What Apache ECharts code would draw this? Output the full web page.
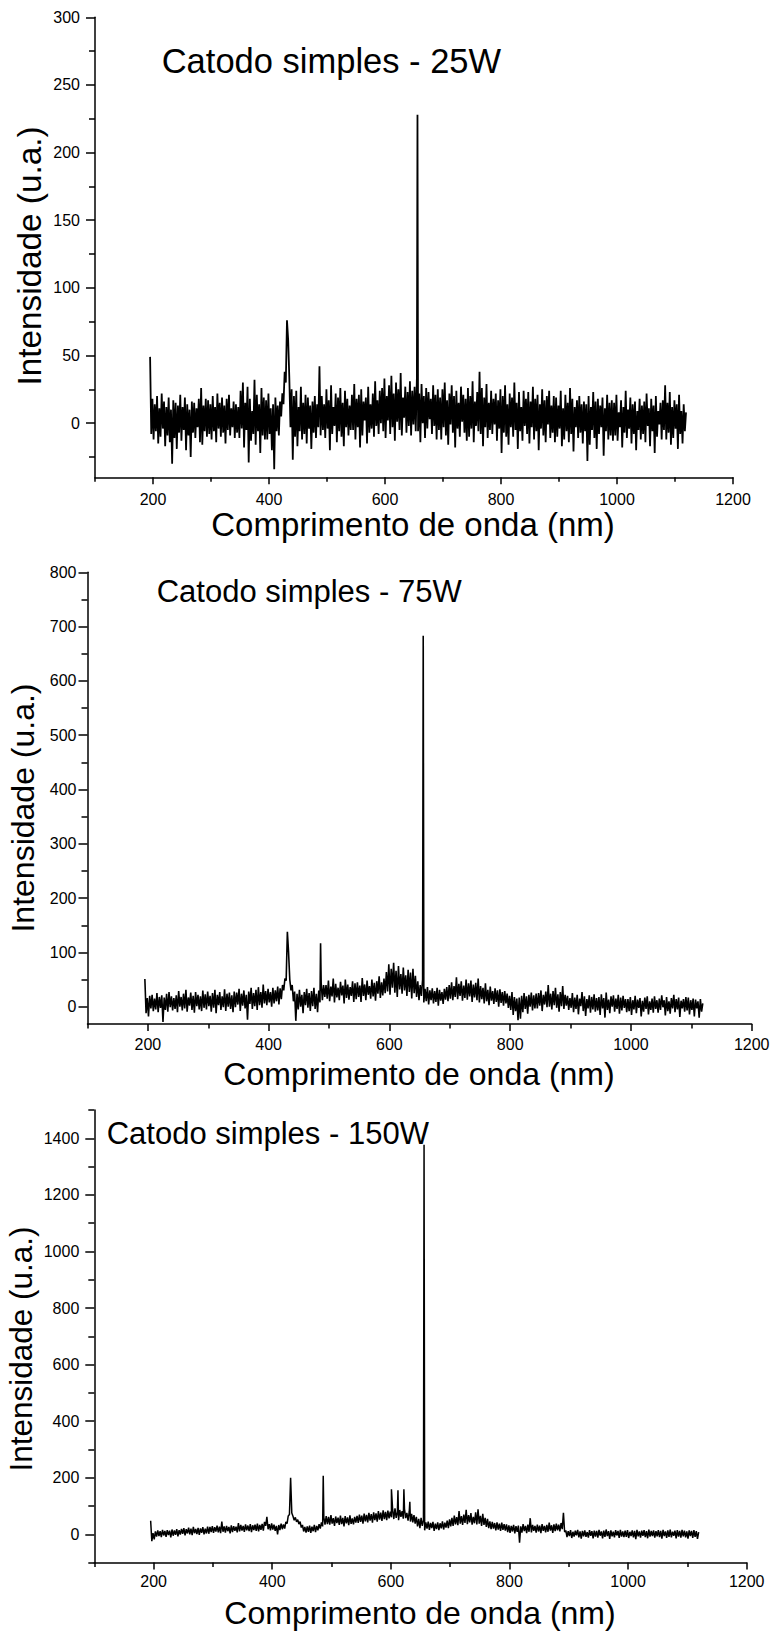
<!DOCTYPE html>
<html>
<head>
<meta charset="utf-8">
<title>Catodo simples - espectros</title>
<script src="https://cdn.jsdelivr.net/npm/echarts@6/dist/echarts.min.js"></script>
<style>
  html, body { margin: 0; padding: 0; background: #fff; }
  #chart { width: 773px; height: 1634px; }
</style>
</head>
<body>
<div id="chart"></div>
<script>
// espectros: 195 a 1119 nm a cada 2 nm
// (valores alternam máximo / mínimo local da faixa de ruído)
const lambdaStart = 195;
const lambdaStep = 2;

const xMajorTicks = [200, 400, 600, 800, 1000, 1200];
const xMinorTicks = [100, 300, 500, 700, 900, 1100];

// --- 25W ---
const y25Major = [0, 50, 100, 150, 200, 250, 300];
const y25Minor = [-25, 25, 75, 125, 175, 225, 275];
const noise25W = [
  49, -8, 18, -12, 14, -6, 20, -15, 11, -10, 22, -4, 16, -17, 12, -9, 19, -14, 10, -30, 17, -11, 15, -19, 13,
  -7, 21, -13, 12, -5, 19, -20, 14, -9, 10, -25, 16, -7, 15, -11, 11, -3, 18, -14, 26, -16, 13, -6, 18, -10,
  17, -8, 14, -12, 20, -6, 12, -14, 22, -4, 15, -10, 19, -7, 13, -15, 18, -5, 21, -9, 11, -3, 16, -11, 14,
  -7, 12, -11, 24, -4, 30, -18, 15, -5, 27, -29, 18, -13, 9, -8, 32, -16, 21, -6, 14, -22, 26, -9, 19, -12,
  17, -12, 22, -8, 11, -20, 14, -34, 19, -6, 13, -9, 16, 5, 22, 14, 38, 30, 76, 62, 34, -3, 25, -27, 20,
  -10, 24, -17, 12, -6, 27, -12, 15, -8, 21, -15, 19, -4, 13, -19, 16, -7, 20, -11, 14, -3, 42, -9, 20, -5,
  14, -11, 25, -4, 17, -20, 28, -8, 12, -2, 22, -14, 19, -6, 26, -10, 15, -17, 24, -3, 18, -9, 13, -5, 21,
  -5, 29, -12, 18, -3, 21, -18, 25, -9, 16, 2, 19, -15, 27, -7, 14, -4, 22, -10, 31, -2, 17, -8, 24, 0,
  26, -6, 33, -11, 20, 2, 28, -8, 35, -3, 22, -13, 30, 1, 25, -5, 37, -9, 19, 4, 27, -7, 23, -2, 31,
  -9, 24, -1, 27, -6, 34, -6, 22, -14, 29, 0, 20, -11, 26, -4, 23, 3, 18, -8, 28, -2, 21, -12, 25, -5,
  19, -12, 25, -3, 30, -9, 17, -16, 22, -1, 28, -7, 20, -18, 24, -4, 15, -10, 27, 1, 21, -7, 18, -13, 26,
  -10, 20, -4, 31, -14, 16, -2, 23, -6, 38, -8, 26, -17, 19, -3, 29, -11, 15, -5, 24, -8, 18, -1, 22, -13,
  17, -4, 25, -22, 20, -7, 28, -10, 14, -16, 22, -3, 19, -10, 30, -5, 15, -19, 23, -6, 12, -13, 24, -2, 18,
  -8, 23, -15, 16, -3, 27, -12, 18, -6, 21, -20, 14, -4, 25, -9, 17, -14, 20, -1, 24, -11, 13, -7, 20, -14,
  19, -10, 13, -4, 24, -17, 11, -12, 21, -6, 15, -14, 26, -8, 18, -21, 12, -3, 17, -11, 20, -7, 14, -15, 16,
  -6, 14, -28, 20, -16, 12, -5, 23, -11, 16, -19, 18, -8, 13, -3, 19, -24, 11, -6, 21, -12, 15, -9, 17, -13,
  15, -9, 21, -13, 8, -3, 17, -18, 12, -7, 24, -11, 10, -4, 19, -15, 14, -8, 16, -20, 9, -5, 18, -12, 13,
  -8, 16, -14, 22, -2, 11, -17, 18, -6, 13, -22, 20, -10, 9, -1, 15, -12, 17, -5, 28, -12, 15, -7, 23, -16,
  12, -11, 17, -4, 14, -19, 21, -8, 9, -15, 14, -6, 8
];
const peaks25W = [[656, 228]];

// --- 75W ---
const y75Major = [0, 100, 200, 300, 400, 500, 600, 700, 800];
const y75Minor = [50, 150, 250, 350, 450, 550, 650, 750];
const noise75W = [
  51, -12, 16, -18, 20, -3, 22, -8, 15, -5, 25, -10, 18, -2, 21, -28, 17, -6, 24, -9, 27, -1, 19, -7, 16,
  -4, 21, -10, 29, 0, 18, -7, 24, -3, 31, -9, 17, 2, 26, -6, 20, -11, 27, 1, 22, -5, 19, -8, 30, -2,
  23, -5, 28, 1, 20, -9, 25, -2, 31, -12, 22, 3, 27, -6, 19, -1, 32, -8, 24, 0, 26, -4, 21, -10, 28,
  -1, 26, 4, 33, -8, 24, 2, 30, -3, 22, -24, 28, 5, 35, -4, 25, 1, 31, -6, 36, 3, 27, -2, 41, 6,
  29, 3, 33, 8, 27, 0, 35, 6, 30, 10, 37, 4, 34, 14, 40, 30, 52, 48, 138, 100, 50, 30, 40, 10, 28,
  -26, 24, -5, 31, 0, 22, -12, 27, 3, 33, -2, 25, -8, 29, 1, 35, -4, 24, -10, 30, 8, 44, 12, 40, 18,
  40, 15, 48, 10, 37, 19, 52, 8, 42, 17, 35, 12, 46, 21, 39, 6, 50, 16, 41, 13, 36, 20, 47, 9, 43,
  14, 45, 18, 39, 9, 53, 20, 41, 12, 48, 22, 38, 15, 50, 19, 44, 11, 47, 24, 56, 16, 45, 21, 52, 25,
  64, 28, 78, 22, 70, 35, 81, 26, 66, 18, 75, 32, 60, 24, 72, 30, 58, 20, 68, 27, 63, 15, 70, 25, 57,
  18, 47, 12, 40, 20, 50, 8, 33, 10, 36, 4, 30, 12, 34, 6, 29, 9, 35, 2, 31, 11, 27, 5, 33, 13,
  36, 10, 40, 15, 45, 12, 38, 18, 54, 14, 42, 20, 47, 11, 39, 16, 50, 13, 43, 19, 48, 9, 41, 17, 44,
  12, 52, 8, 38, 14, 35, 6, 43, 10, 31, 3, 37, 11, 29, 5, 34, 9, 30, 0, 32, 7, 27, 2, 29, 6,
  24, -2, 20, -6, 27, -15, 18, -8, 15, -25, 17, -22, 20, -10, 25, -4, 19, -13, 22, 0, 26, -7, 21, -3, 24,
  -3, 25, 2, 30, -8, 22, 4, 28, -1, 40, 0, 24, -5, 29, 3, 35, -2, 23, -9, 27, 1, 38, -4, 22, 2,
  20, -6, 16, -2, 25, -10, 17, -4, 22, -14, 15, 1, 27, -8, 19, -17, 14, -3, 21, -11, 18, -5, 23, -9, 16,
  -7, 18, -15, 23, -3, 16, -20, 26, -6, 13, -12, 19, 0, 21, -9, 15, -4, 22, -13, 17, -7, 20, -2, 14, -10,
  14, -8, 18, -15, 12, -5, 20, -12, 13, -2, 16, -18, 11, -9, 17, -4, 19, -14, 10, -6, 15, -11, 19, -4, 12,
  -11, 15, -6, 21, -1, 12, -16, 18, -8, 10, -13, 16, -3, 22, -10, 14, -5, 17, -19, 11, -3, 14, -9, 18, -7,
  17, -14, 12, -6, 15, -18, 13, -3, 10, -20, 14, -9, 6
];
const peaks75W = [[486, 117], [656, 683]];

// --- 150W ---
const y150Major = [0, 200, 400, 600, 800, 1000, 1200, 1400];
const y150Minor = [-100, 100, 300, 500, 700, 900, 1100, 1300, 1500];
const noise150W = [
  48, -24, 4, -18, 10, -8, 14, -6, 11, -10, 16, -4, 12, -9, 15, -3, 13, -11, 17, -5, 14, -2, 18, -7, 15,
  -1, 19, 2, 22, -4, 18, 3, 24, 0, 20, -3, 26, 4, 19, 1, 23, -2, 21, 5, 25, 0, 20, 3, 27, 2,
  26, 8, 29, 5, 25, 10, 31, 7, 27, 4, 45, 9, 28, 6, 30, 11, 26, 3, 32, 8, 29, 12, 27, 7, 40,
  10, 33, 13, 30, 9, 35, 14, 31, 11, 36, 8, 32, 15, 34, 12, 38, 10, 33, 16, 37, 13, 44, 30, 62, 18,
  36, 14, 39, 17, 34, 12, 30, 0, 33, 15, 38, 18, 35, 20, 44, 38, 65, 70, 200, 75, 64, 50, 60, 44, 52,
  36, 45, 24, 33, 10, 26, 6, 28, 9, 31, 5, 27, 11, 33, 8, 30, 14, 36, 20, 42, 28, 60, 34, 64, 36,
  62, 34, 68, 38, 57, 30, 63, 40, 59, 33, 66, 36, 58, 28, 64, 39, 60, 32, 67, 37, 56, 35, 62, 41, 65,
  40, 70, 44, 66, 38, 73, 46, 69, 42, 76, 48, 71, 41, 78, 50, 74, 45, 82, 52, 77, 47, 85, 54, 79, 50,
  84, 56, 80, 60, 88, 54, 92, 58, 78, 50, 86, 62, 82, 55, 90, 57, 76, 48, 80, 45, 72, 42, 68, 38, 62,
  28, 55, 22, 58, 30, 50, 14, 42, 20, 45, 16, 40, 22, 44, 12, 38, 18, 42, 15, 39, 21, 46, 17, 41, 24,
  48, 22, 53, 28, 58, 30, 66, 35, 61, 32, 82, 38, 64, 33, 70, 40, 87, 36, 68, 42, 75, 34, 62, 39, 78,
  35, 88, 38, 65, 30, 72, 33, 58, 26, 55, 22, 46, 18, 44, 20, 40, 14, 42, 17, 38, 12, 41, 16, 36, 13,
  35, 8, 32, 5, 30, 10, 33, 3, 29, 9, 31, -30, 28, 6, 36, 11, 30, 4, 34, 9, 57, 7, 33, 12, 30,
  6, 34, 10, 31, 4, 36, 12, 30, 7, 33, 9, 41, 13, 32, 5, 35, 11, 38, 14, 34, 10, 40, 18, 76, 8,
  14, -10, 11, -6, 15, -13, 9, -8, 13, -4, 16, -11, 10, -15, 12, -7, 14, -9, 8, -12, 15, -5, 11, -14, 13,
  -8, 12, -12, 16, -5, 10, -14, 13, -9, 17, -6, 11, -16, 14, -7, 9, -11, 15, -4, 12, -13, 16, -8, 10, -10,
  13, -9, 15, -13, 9, -6, 14, -11, 12, -17, 16, -7, 10, -12, 13, -5, 15, -10, 11, -14, 17, -8, 12, -6, 14,
  -12, 11, -7, 15, -10, 12, -15, 16, -6, 10, -13, 14, -9, 17, -11, 9, -5, 13, -14, 15, -8, 12, -12, 16, -7,
  13, -11, 10, -15, 14, -6, 12, -13, 15, -9, 11, -16, 8
];
const peaks150W = [[486, 207], [601, 159], [612, 156], [622, 159], [632, 115], [656, 1377]];

const titles = ['Catodo simples - 25W', 'Catodo simples - 75W', 'Catodo simples - 150W'];
const xTitle = 'Comprimento de onda (nm)';
const yTitle = 'Intensidade (u.a.)';

const font = '"Liberation Sans", Arial, Helvetica, sans-serif';

function buildSpectrum(noise, peaks) {
  const pts = noise.map((v, i) => [lambdaStart + i * lambdaStep, v]);
  return pts.concat(peaks).sort((a, b) => a[0] - b[0]);
}

// layout of each panel (px)
const panels = [
  { grid: { left: 95, top: 17.3, width: 638, height: 460 }, yMin: -40, yMax: 300,
    yMajor: y25Major, yMinor: y25Minor, data: buildSpectrum(noise25W, peaks25W),
    yLabelMargin: 15, xLabelMargin: 14, lineWidth: 1.8,
    title: { x: 161.7, y: 61, size: 34.5 },
    xName: { x: 413, y: 524, size: 33 }, yName: { x: 29, y: 256, size: 33.3 } },
  { grid: { left: 87.5, top: 572.3, width: 664.2, height: 451.8 }, yMin: -32, yMax: 800,
    yMajor: y75Major, yMinor: y75Minor, data: buildSpectrum(noise75W, peaks75W),
    yLabelMargin: 11, xLabelMargin: 12, lineWidth: 1.6,
    title: { x: 156.7, y: 591, size: 31 },
    xName: { x: 419, y: 1074, size: 32 }, yName: { x: 23, y: 808, size: 32 } },
  { grid: { left: 94.3, top: 1110, width: 652.4, height: 452.6 }, yMin: -100, yMax: 1500,
    yMajor: y150Major, yMinor: y150Minor, data: buildSpectrum(noise150W, peaks150W),
    yLabelMargin: 15, xLabelMargin: 11, lineWidth: 1.5,
    title: { x: 106.7, y: 1133.5, size: 31 },
    xName: { x: 420, y: 1613, size: 32 }, yName: { x: 21, y: 1349, size: 31.5 } }
];

const axisColor = '#000';
const plainNumber = (v) => String(v);
const grids = [], xAxes = [], yAxes = [], series = [], graphic = [];

panels.forEach((p, i) => {
  grids.push(Object.assign({ containLabel: false }, p.grid));

  // major x axis
  xAxes.push({
    type: 'value', gridIndex: i, min: 100, max: 1200, position: 'bottom',
    axisLine: { onZero: false, lineStyle: { color: axisColor, width: 1.5 } },
    axisTick: { customValues: xMajorTicks, length: 7, lineStyle: { color: axisColor, width: 1.5 } },
    axisLabel: { customValues: xMajorTicks, formatter: plainNumber, color: '#000', fontSize: 16, fontFamily: font, margin: p.xLabelMargin },
    splitLine: { show: false }
  });
  // minor x ticks
  xAxes.push({
    type: 'value', gridIndex: i, min: 100, max: 1200, position: 'bottom',
    axisLine: { show: false, onZero: false },
    axisTick: { customValues: xMinorTicks, length: 4.5, lineStyle: { color: axisColor, width: 1.5 } },
    axisLabel: { show: false },
    splitLine: { show: false }
  });
  // major y axis
  yAxes.push({
    type: 'value', gridIndex: i, min: p.yMin, max: p.yMax, position: 'left',
    axisLine: { show: true, onZero: false, lineStyle: { color: axisColor, width: 1.5 } },
    axisTick: { show: true, customValues: p.yMajor, length: 9, lineStyle: { color: axisColor, width: 1.5 } },
    axisLabel: { customValues: p.yMajor, formatter: plainNumber, color: '#000', fontSize: 16, fontFamily: font, margin: p.yLabelMargin },
    splitLine: { show: false }
  });
  // minor y ticks
  yAxes.push({
    type: 'value', gridIndex: i, min: p.yMin, max: p.yMax, position: 'left',
    axisLine: { show: false, onZero: false },
    axisTick: { show: true, customValues: p.yMinor, length: 6, lineStyle: { color: axisColor, width: 1.5 } },
    axisLabel: { show: false },
    splitLine: { show: false }
  });

  series.push({
    type: 'line', xAxisIndex: i * 2, yAxisIndex: i * 2, data: p.data,
    showSymbol: false, symbol: 'none', silent: true,
    lineStyle: { color: '#000', width: p.lineWidth, join: 'bevel' }
  });

  graphic.push({
    type: 'text', x: p.title.x, y: p.title.y,
    style: { text: titles[i], fill: '#000', fontSize: p.title.size, fontFamily: font, align: 'left', verticalAlign: 'middle' }
  });
  graphic.push({
    type: 'text', x: p.xName.x, y: p.xName.y,
    style: { text: xTitle, fill: '#000', fontSize: p.xName.size, fontFamily: font, align: 'center', verticalAlign: 'middle' }
  });
  graphic.push({
    type: 'text', x: p.yName.x, y: p.yName.y, rotation: Math.PI / 2,
    style: { text: yTitle, fill: '#000', fontSize: p.yName.size, fontFamily: font, align: 'center', verticalAlign: 'middle' }
  });
});

const chart = echarts.init(document.getElementById('chart'), null, { renderer: 'svg' });
chart.setOption({
  backgroundColor: '#fff',
  animation: false,
  grid: grids,
  xAxis: xAxes,
  yAxis: yAxes,
  series: series,
  graphic: graphic
});
</script>
</body>
</html>
